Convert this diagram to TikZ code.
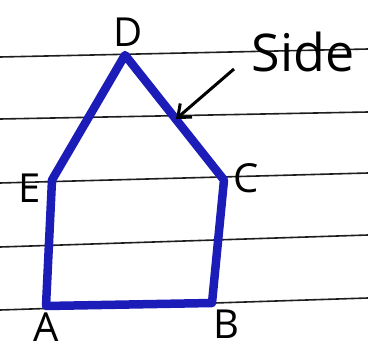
\documentclass[tikz,border=0pt]{standalone}
\usepackage{fontspec}
\setmainfont{Open Sans}
\usetikzlibrary{arrows.meta}
\definecolor{penblue}{RGB}{28,28,185}
\definecolor{rule}{RGB}{30,30,30}
\begin{document}
\begin{tikzpicture}[x=1pt,y=-1pt,
  ruleline/.style={rule,line width=1.6pt},
  sidestroke/.style={penblue,line width=8.5pt,line cap=round,line join=round},
  vlabel/.style={font=\fontsize{40}{40}\selectfont,text=black,inner sep=0pt},
  pointer/.style={black,line width=3pt,-{Straight Barb[length=11pt,width=18pt,line width=3pt]}}]
\useasboundingbox (0,0) rectangle (368,354);
\fill[white] (0,0) rectangle (368,354);
% ruled lines
\draw[ruleline] (0,57) -- (368,49);
\draw[ruleline] (0,119) -- (368,112);
\draw[ruleline] (0,183) -- (368,173);
\draw[ruleline] (0,247) -- (368,235);
\draw[ruleline] (0,310) -- (368,298);
% vertices
\coordinate (D) at (125,55);
\coordinate (C) at (224,180);
\coordinate (B) at (212,303);
\coordinate (A) at (46,306);
\coordinate (E) at (52,180);
\draw[sidestroke] (D) -- (C) -- (B) -- (A) -- (E) -- cycle;
% labels
\node[vlabel] (lD) at (128,32) {D};
\node[vlabel] (lC) at (246,178) {C};
\node[vlabel] (lB) at (226,324) {B};
\node[vlabel] (lA) at (46,327) {A};
\node[vlabel] (lE) at (30,188) {E};
\node[vlabel,font=\fontsize{52}{52}\selectfont] (side) at (303,52) {Side};
\coordinate (tail) at (234,69);
\coordinate (tip) at (176,119);
\draw[pointer] (tail) -- (tip);
\end{tikzpicture}
\end{document}
